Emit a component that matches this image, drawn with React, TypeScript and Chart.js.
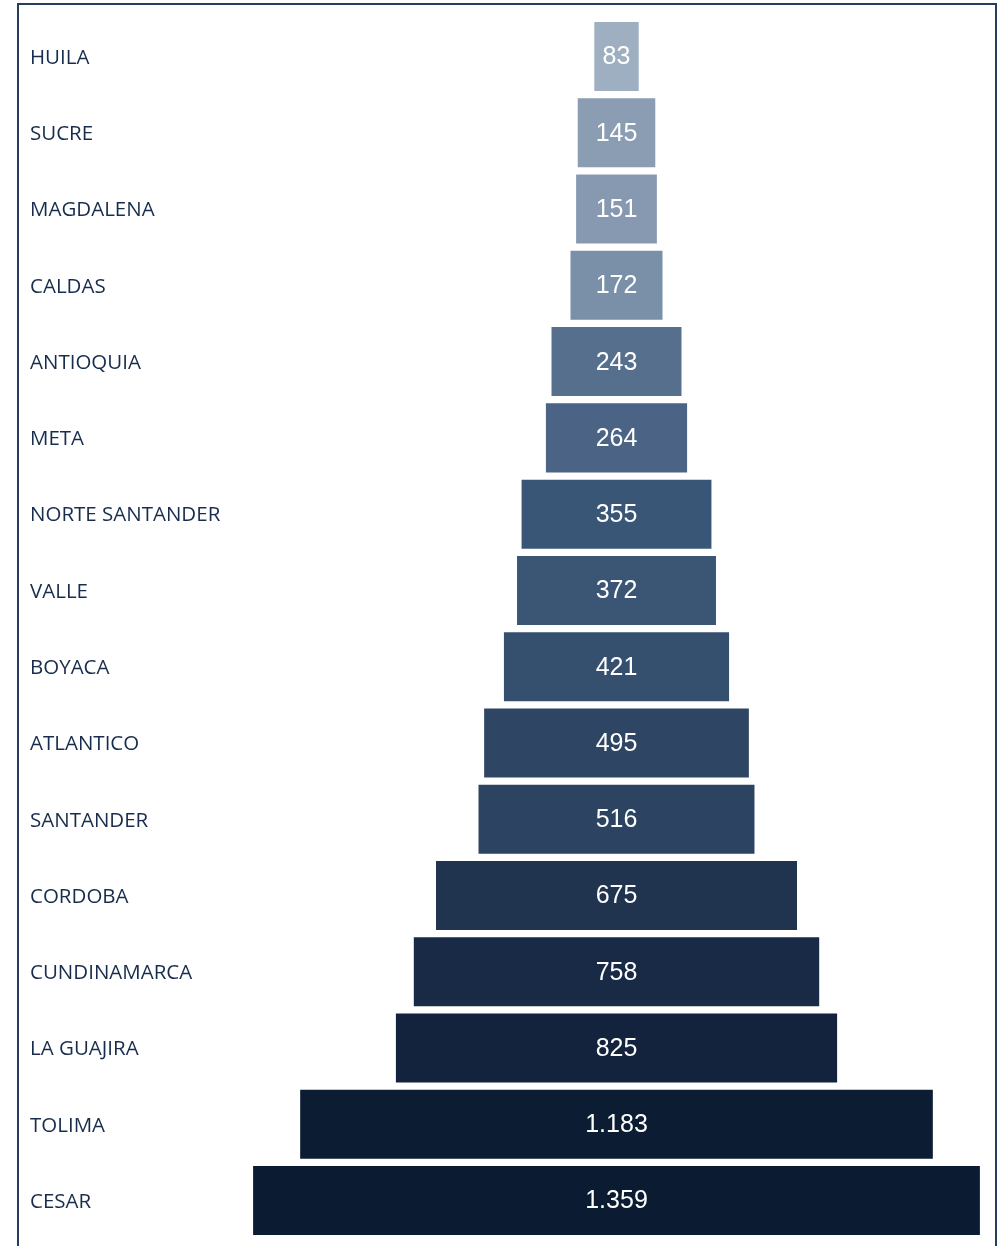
import React, { useEffect, useRef } from "react";
import { Chart, registerables } from "chart.js";

Chart.register(...registerables);

const categories = [
  "HUILA",
  "SUCRE",
  "MAGDALENA",
  "CALDAS",
  "ANTIOQUIA",
  "META",
  "NORTE SANTANDER",
  "VALLE",
  "BOYACA",
  "ATLANTICO",
  "SANTANDER",
  "CORDOBA",
  "CUNDINAMARCA",
  "LA GUAJIRA",
  "TOLIMA",
  "CESAR",
];

const values = [83, 145, 151, 172, 243, 264, 355, 372, 421, 495, 516, 675, 758, 825, 1183, 1359];

const barColors = [
  "#9fafc2",
  "#8b9db3",
  "#8799b0",
  "#7a8fa8",
  "#566f8c",
  "#4b6385",
  "#3a5677",
  "#3b5675",
  "#35506f",
  "#2e4664",
  "#2c4462",
  "#20344f",
  "#182a45",
  "#13233d",
  "#0b1c33",
  "#0b1c32",
];

const fmt = (v: number) => String(v).replace(/\B(?=(\d{3})+(?!\d))/g, ".");

const labelPlugin = {
  id: "funnelLabels",
  afterDatasetsDraw(chart: any) {
    const ctx = chart.ctx;
    const meta = chart.getDatasetMeta(0);
    ctx.save();
    ctx.font = "25px 'Liberation Sans', Arial, sans-serif";
    ctx.fillStyle = "#ffffff";
    ctx.textAlign = "center";
    ctx.textBaseline = "middle";
    meta.data.forEach((bar: any, i: number) => {
      const p = bar.getProps(["x", "y", "base"], true);
      ctx.fillText(fmt(values[i]), (p.x + p.base) / 2, p.y + 1);
    });
    ctx.restore();
  },
};

export default function App() {
  const ref = useRef<HTMLCanvasElement>(null);

  useEffect(() => {
    if (!ref.current) return;
    const chart = new Chart(ref.current, {
      type: "bar",
      data: {
        labels: categories,
        datasets: [
          {
            data: values.map((v) => [-v / 2, v / 2]) as any,
            backgroundColor: barColors,
            borderWidth: 0,
            barPercentage: 0.905,
            categoryPercentage: 1,
          },
        ],
      },
      options: {
        indexAxis: "y",
        animation: false,
        responsive: false,
        devicePixelRatio: 1,
        layout: { padding: { left: 30, right: 10, top: 18.4, bottom: 7.3 } },
        plugins: { legend: { display: false }, tooltip: { enabled: false } },
        scales: {
          x: { display: false, min: -704, max: 704 },
          y: {
            type: "category",
            grid: { display: false },
            border: { display: false },
            afterFit: (scale: any) => {
              scale.width = 210;
            },
            ticks: {
              crossAlign: "far",
              padding: 0,
              labelOffset: 1.5,
              autoSkip: false,
              color: "#182d4d",
              font: { family: "'Open Sans', 'Noto Sans', sans-serif", size: 20.5, lineHeight: 0.6 },
            },
          },
        },
      },
      plugins: [labelPlugin],
    });
    return () => chart.destroy();
  }, []);

  return (
    <div
      style={{
        position: "absolute",
        left: 0,
        top: 0,
        width: 1003,
        height: 1246,
        overflow: "hidden",
        background: "#ffffff",
      }}
    >
      <div
        style={{
          position: "absolute",
          left: 17,
          top: 3,
          width: 976,
          height: 1300,
          border: "2px solid #263d5e",
        }}
      />
      <canvas ref={ref} width={1003} height={1246} style={{ position: "absolute", left: 0, top: 0 }} />
    </div>
  );
}
